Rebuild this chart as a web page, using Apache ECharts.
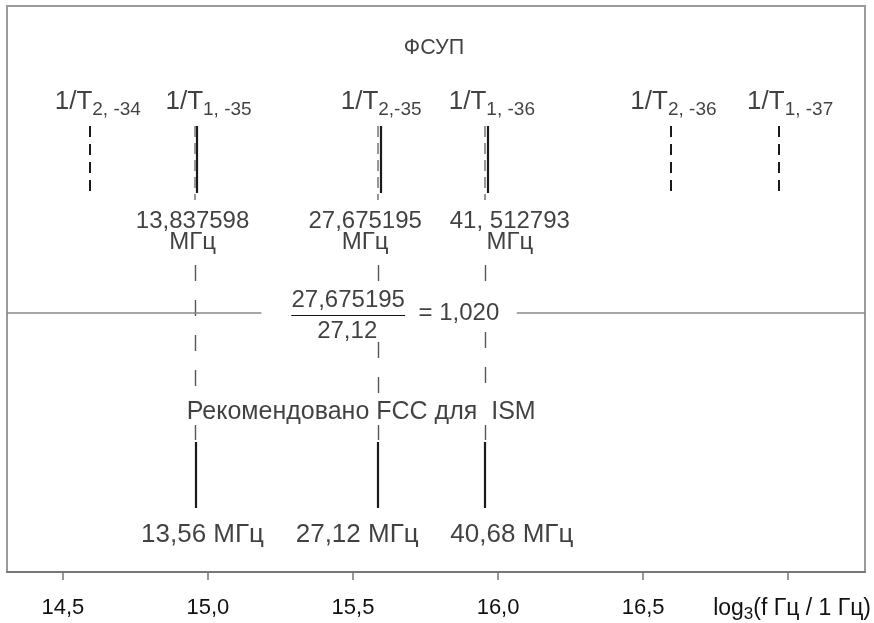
<!DOCTYPE html>
<html>
<head>
<meta charset="utf-8">
<script src="https://cdn.jsdelivr.net/npm/echarts@6/dist/echarts.min.js"></script>
<style>
  html, body { margin: 0; padding: 0; background: #fff; }
  #chart { width: 874px; height: 623px; }
</style>
</head>
<body>
<div id="chart"></div>
<script>
// values, x in log3(f / 1 Hz)
const xTicks = [14.5, 15.0, 15.5, 16.0, 16.5, 17.0];
const xTickLabels = ['14,5', '15,0', '15,5', '16,0', '16,5'];

const fsupSubs = ['2, -34', '1, -35', '2,-35', '1, -36', '2, -36', '1, -37'];
const fsupPos = [14.593, 14.963, 15.597, 15.965, 16.594, 16.968];
const fsupSolid = [false, true, true, true, false, false];
const fsupPartnerPos = [14.954, 15.587, 15.955];
const fsupFreqLabels = ['13,837598', '27,675195', '41, 512793'];

const ismPos = [14.957, 15.587, 15.955];
const ismLabels = ['13,56 МГц', '27,12 МГц', '40,68 МГц'];

const ratioNum = '27,675195';
const ratioDen = '27,12';
const ratioValue = '1,020';

// picture layout: pixel -> axis units
const px2x = p => 14.5 + (p - 63) / 290.8;
const py2y = p => p - 6;

const FONT = "'Liberation Sans', Arial, sans-serif";
const INK = '#111';

const seg = (x0, y0, x1, y1, style) => [
  { coord: [x0, py2y(y0)], lineStyle: style },
  { coord: [x1, py2y(y1)] }
];

const solidStyle = { color: '#1a1a1a', width: 2.2, type: 'solid' };
const partnerStyle = { color: '#777', width: 1.5, type: [11, 6] };
const farDashStyle = { color: '#1a1a1a', width: 2, type: [11, 7] };
const midDashStyle = { color: '#555', width: 1.4, type: [16, 19] };

// vertical pixel spans of the dashed guides, skipping the text they run behind
const midSpans = [
  [[265, 400], [425, 440]],
  [[265, 286], [342, 400], [425, 440]],
  [[265, 294], [332, 400], [425, 440]]
];

const lineSegs = [];
fsupPos.forEach((x, i) => {
  lineSegs.push(seg(x, 126, x, 193, fsupSolid[i] ? solidStyle : farDashStyle));
});
fsupPartnerPos.forEach(x => lineSegs.push(seg(x, 126, x, 200, partnerStyle)));
ismPos.forEach((x, i) => {
  midSpans[i].forEach(s => lineSegs.push(seg(x, s[0], x, s[1], midDashStyle)));
  lineSegs.push(seg(x, 442, x, 508, solidStyle));
});
// horizontal divider, broken around the ratio
const divStyle = { color: '#888', width: 1.5, type: 'solid' };
lineSegs.push(seg(px2x(7), 313, px2x(262), 313, divStyle));
lineSegs.push(seg(px2x(518), 313, px2x(867), 313, divStyle));
// fraction bar
lineSegs.push(seg(px2x(292), 315, px2x(406), 315, { color: INK, width: 1.2, type: 'solid' }));

const txt = (px, py, formatter, extra) => ({
  value: [px2x(px), py2y(py)],
  label: Object.assign({
    show: true, position: [0, 0], align: 'center', verticalAlign: 'middle',
    formatter: formatter, color: INK, fontFamily: FONT, fontSize: 22,
    textBorderWidth: 0
  }, extra || {})
});

const fsupLabelX = [98, 209, 382, 493, 675, 792];
const freqLabelX = [193, 366, 511];
const ismLabelX = [203, 358, 513];

const subRich = {
  m: { fontSize: 26, color: INK, fontFamily: FONT },
  s: { fontSize: 19, padding: [15, 0, 0, 0], color: INK, fontFamily: FONT }
};

const texts = [];
texts.push(txt(435, 48, 'ФСУП', { fontSize: 21.5 }));
fsupSubs.forEach((s, i) => {
  texts.push(txt(fsupLabelX[i], 102, '{m|1/T}{s|' + s + '}', { rich: subRich }));
});
fsupFreqLabels.forEach((s, i) => {
  texts.push(txt(freqLabelX[i], 232, s + '\nМГц', { fontSize: 24, lineHeight: 21 }));
});
texts.push(txt(349, 300, ratioNum, { fontSize: 24 }));
texts.push(txt(348, 331, ratioDen, { fontSize: 24 }));
texts.push(txt(460, 313, '= ' + ratioValue, { fontSize: 24 }));
texts.push(txt(362, 412, 'Рекомендовано FCC для  ISM', { fontSize: 25 }));
ismLabels.forEach((s, i) => {
  texts.push(txt(ismLabelX[i], 535, s, { fontSize: 26 }));
});

const chart = echarts.init(document.getElementById('chart'));
chart.setOption({
  animation: false,
  backgroundColor: '#fff',
  grid: {
    left: 7, right: 7, top: 6, bottom: 51,
    show: true, borderColor: '#999', borderWidth: 2, backgroundColor: 'transparent'
  },
  xAxis: {
    type: 'value',
    position: 'bottom',
    min: px2x(7),
    max: px2x(867),
    splitLine: { show: false },
    axisLine: { show: true, onZero: false, lineStyle: { color: '#777', width: 2 } },
    axisTick: { show: true, customValues: xTicks, length: 8, lineStyle: { color: '#777', width: 1.5 } },
    axisLabel: {
      customValues: xTicks.slice(0, xTickLabels.length),
      formatter: v => xTickLabels[xTicks.indexOf(v)] || '',
      margin: 25, fontSize: 22, color: INK, fontFamily: FONT
    },
    name: '{m|log}{s|3}{m|(f Гц / 1 Гц)}',
    nameLocation: 'end',
    nameGap: 6,
    nameTextStyle: {
      align: 'right', verticalAlign: 'top', padding: [22, 0, 0, 0],
      rich: {
        m: { fontSize: 23, color: INK, fontFamily: FONT },
        s: { fontSize: 17, padding: [12, 0, 0, 0], color: INK, fontFamily: FONT }
      }
    }
  },
  yAxis: { type: 'value', inverse: true, min: 0, max: 566, show: false },
  series: [
    {
      name: 'lines',
      type: 'scatter',
      data: [],
      silent: true,
      markLine: {
        silent: true,
        symbol: ['none', 'none'],
        label: { show: false },
        data: lineSegs
      }
    },
    {
      name: 'texts',
      type: 'scatter',
      symbolSize: 0,
      itemStyle: { color: INK },
      clip: false,
      silent: true,
      data: texts
    }
  ]
});
</script>
</body>
</html>
